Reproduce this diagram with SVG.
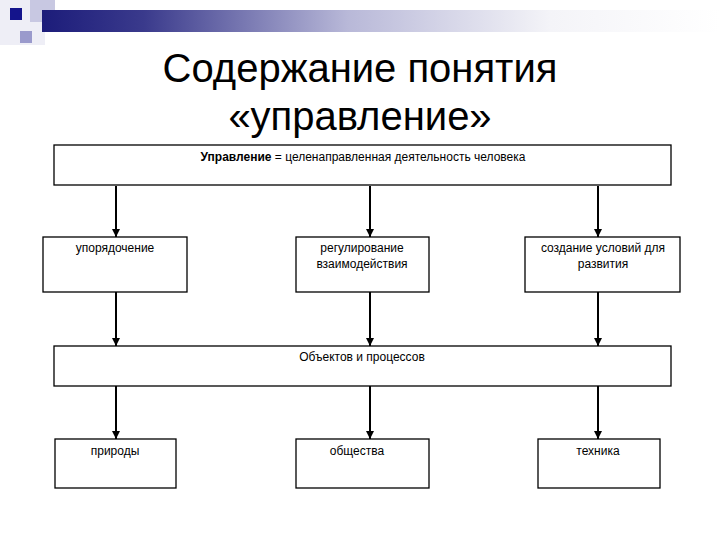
<svg xmlns="http://www.w3.org/2000/svg" width="720" height="540" viewBox="0 0 720 540">
<defs>
<linearGradient id="bar" x1="0" y1="0" x2="1" y2="0">
<stop offset="0" stop-color="#1c1c7a"/>
<stop offset="0.15" stop-color="#3a3a8c"/>
<stop offset="0.45" stop-color="#b8b8d8"/>
<stop offset="0.75" stop-color="#f4f4f8"/>
<stop offset="1" stop-color="#ffffff"/>
</linearGradient>
<marker id="ah" markerWidth="8" markerHeight="8" refX="8" refY="4" orient="auto" markerUnits="userSpaceOnUse" viewBox="0 0 8 8">
<path d="M0,0 L8,4 L0,8 Z" fill="#000"/>
</marker>
<style>
.box{fill:#fff;stroke:#000;stroke-width:1.3}
.t{font-family:"Liberation Sans",Arial,sans-serif;font-size:12px;fill:#000;text-anchor:middle}
.title{font-family:"Liberation Sans",Arial,sans-serif;font-size:40px;fill:#000;text-anchor:middle}
.con{stroke:#000;stroke-width:2;fill:none;marker-end:url(#ah)}
</style>
</defs>
<rect width="720" height="540" fill="#fff"/>
<g id="decor">
<rect x="0" y="0" width="45" height="45" fill="#eeeef6"/>
<rect x="30" y="0" width="25" height="22" fill="#c8c8e2"/>
<rect x="42" y="10" width="678" height="22" fill="url(#bar)"/>
<rect x="10" y="8" width="12" height="12" fill="#14148c"/>
<rect x="20" y="31" width="12" height="12" fill="#9a9acc"/>
</g>
<g id="title">
<text class="title" x="360" y="82">Содержание понятия</text>
<text class="title" x="360" y="130">«управление»</text>
</g>
<g id="connectors">
<line class="con" x1="116" y1="186" x2="116" y2="237"/>
<line class="con" x1="370" y1="186" x2="370" y2="237"/>
<line class="con" x1="598" y1="186" x2="598" y2="237"/>
<line class="con" x1="116" y1="292" x2="116" y2="346"/>
<line class="con" x1="370" y1="292" x2="370" y2="346"/>
<line class="con" x1="598" y1="292" x2="598" y2="346"/>
<line class="con" x1="116" y1="386" x2="116" y2="439"/>
<line class="con" x1="370" y1="386" x2="370" y2="439"/>
<line class="con" x1="598" y1="386" x2="598" y2="439"/>
</g>
<g id="node-top">
<rect class="box" x="54" y="145" width="617" height="40"/>
<text class="t" x="363" y="161"><tspan font-weight="bold">Управление</tspan> = целенаправленная деятельность человека</text>
</g>
<g id="node-order">
<rect class="box" x="43" y="237" width="144" height="55"/>
<text class="t" x="115" y="252">упорядочение</text>
</g>
<g id="node-regulation">
<rect class="box" x="296" y="237" width="133" height="55"/>
<text class="t" x="362" y="252">регулирование</text>
<text class="t" x="362" y="268">взаимодействия</text>
</g>
<g id="node-conditions">
<rect class="box" x="525" y="237" width="155" height="55"/>
<text class="t" x="603" y="252">создание условий для</text>
<text class="t" x="603" y="268">развития</text>
</g>
<g id="node-objects">
<rect class="box" x="54" y="346" width="617" height="40"/>
<text class="t" x="362" y="361">Объектов и процессов</text>
</g>
<g id="node-nature">
<rect class="box" x="55" y="439" width="121" height="49"/>
<text class="t" x="115" y="455">природы</text>
</g>
<g id="node-society">
<rect class="box" x="296" y="439" width="133" height="49"/>
<text class="t" x="357" y="455">общества</text>
</g>
<g id="node-technics">
<rect class="box" x="538" y="439" width="122" height="49"/>
<text class="t" x="598" y="455">техника</text>
</g>
</svg>
